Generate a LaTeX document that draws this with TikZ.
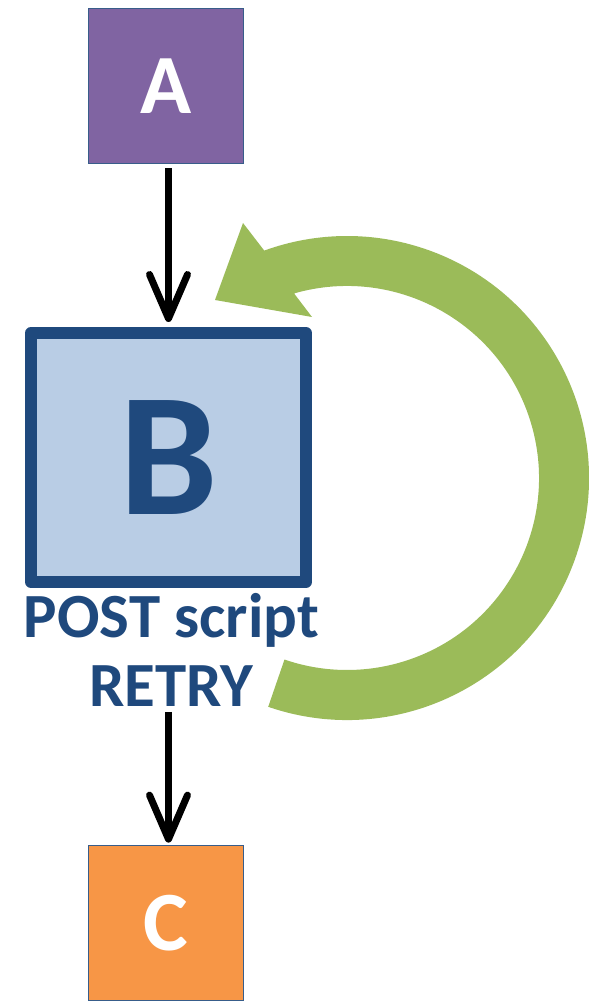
\documentclass[tikz,border=0pt]{standalone}
\usepackage{fontspec}
\setmainfont{Carlito}
\usetikzlibrary{arrows.meta}
\definecolor{boxline}{HTML}{385D8A}
\definecolor{apurple}{HTML}{8064A2}
\definecolor{corange}{HTML}{F79646}
\definecolor{bfill}{HTML}{B9CDE5}
\definecolor{bdark}{HTML}{1F497D}
\definecolor{loopgreen}{HTML}{9BBB59}
\begin{document}
\begin{tikzpicture}[
    box/.style={draw=boxline, line width=0.5pt, minimum size=1.55cm, inner sep=0pt,
        font=\fontsize{24}{28}\selectfont\bfseries, text=white},
    flow/.style={line width=0.07cm, -{Straight Barb[length=0.44cm,width=0.38cm,round]}},
]
    \useasboundingbox (0,0) rectangle (5.89,10.01);

    % jobs
    \node[box, fill=apurple] (A) at (1.66, 9.15) {A};
    \node[draw=bdark, fill=bfill, line width=0.12cm, line join=round,
        minimum width=2.75cm, minimum height=2.49cm, text=bdark,
        font=\fontsize{50}{56}\selectfont\bfseries] (B) at (1.685, 5.435) {B};
    \node[text=bdark, align=center, inner sep=0pt,
        font=\fontsize{17.9}{19.4}\selectfont\bfseries] (lbl) at (1.715, 3.51) {POST script\\RETRY};
    \node[box, fill=corange] (C) at (1.66, 0.78) {C};

    % edges
    \draw[flow, shorten <=0.04cm, shorten >=0.05cm] (A.south -| B.north) -- (B.north);
    \draw[flow, shorten <=0.05cm, shorten >=0.02cm] (lbl.south -| B.south) -- (C.north -| B.south);

    % retry loop
    \begin{scope}[shift={(3.47,5.23)}]
        \fill[loopgreen] (-109:2.42) arc[start angle=-109, end angle=110, radius=2.42]
            -- (-1.04,2.55) -- (-1.32,1.78) -- (-0.35,1.61)
            -- (106:1.92) arc[start angle=106, end angle=-109, radius=1.92] -- cycle;
    \end{scope}
\end{tikzpicture}
\end{document}
